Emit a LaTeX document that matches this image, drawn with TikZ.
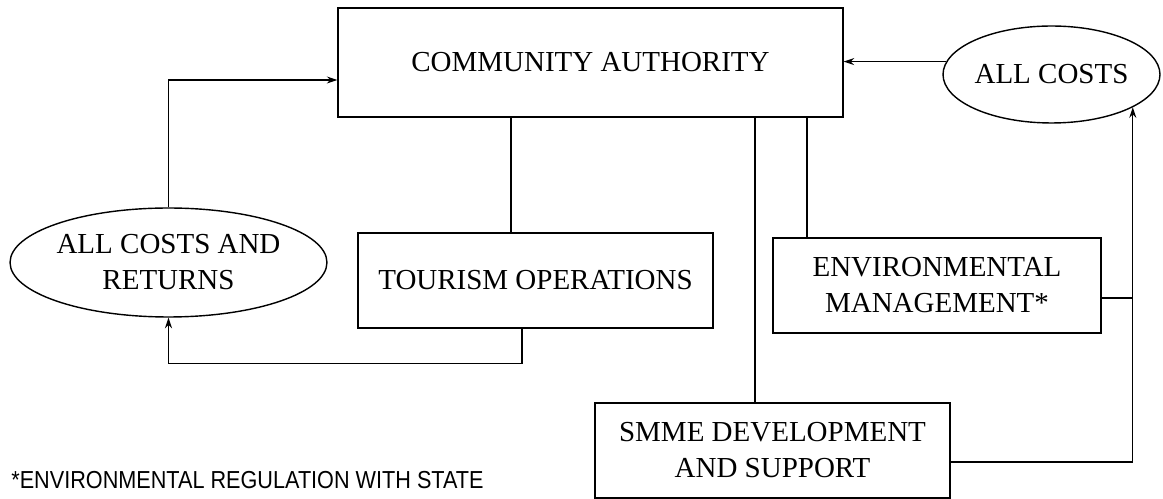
\documentclass[tikz,border=0pt]{standalone}
\usepackage{fontspec}
\setmainfont{Liberation Serif}
\newfontfamily\notafont[FakeStretch=0.88]{Liberation Sans}
\usetikzlibrary{arrows.meta,shapes.geometric}
\begin{document}
\begin{tikzpicture}[
                x=0.02cm, y=-0.02cm,
                bloco/.style={shape=rectangle, draw=black, line width=0.8pt, align=center,
                    font=\fontsize{16.5}{20.5}\selectfont, inner sep=2pt},
                elipse/.style={shape=ellipse, draw=black, line width=0.8pt, align=center,
                    font=\fontsize{16.5}{20.5}\selectfont, inner xsep=-1cm, inner ysep=0pt},
                aresta/.style={line width=0.8pt},
                seta/.style={line width=0.8pt, -{Stealth[length=6pt, width=4pt]}},
            ]
            \useasboundingbox (0,0) rectangle (1163,499);

            \node[bloco, minimum width=10.1cm, minimum height=2.18cm] (ca) at (590.5, 62.5) {COMMUNITY AUTHORITY};
            \node[elipse, minimum width=6.34cm, minimum height=2.18cm] (acr) at (168.5, 262.5) {ALL COSTS AND\\RETURNS};
            \node[bloco, minimum width=7.1cm, minimum height=1.9cm] (tur) at (535.5, 280.5) {TOURISM OPERATIONS};
            \node[elipse, minimum width=4.34cm, minimum height=1.94cm] (ac) at (1051.5, 74.5) {ALL COSTS};
            \node[bloco, minimum width=6.56cm, minimum height=1.9cm] (amb) at (937, 285.5) {ENVIRONMENTAL\\MANAGEMENT*};
            \node[bloco, minimum width=7.1cm, minimum height=1.9cm] (smme) at (772.5, 450.5) {SMME DEVELOPMENT\\AND SUPPORT};
            \node[anchor=west, font=\notafont\fontsize{14}{16}\selectfont, inner sep=0pt] (nota) at (11, 480) {*ENVIRONMENTAL REGULATION WITH STATE};

            \coordinate (t1) at ([xshift=-0.49cm]tur.north);
            \coordinate (t2) at ([xshift=-0.27cm]tur.south);
            \coordinate (s1) at ([xshift=-0.35cm]smme.north);
            \coordinate (a1) at ([xshift=-2.6cm]amb.north);
            \coordinate (a2) at ([yshift=-0.25cm]amb.east);
            \coordinate (s2) at ([yshift=-0.23cm]smme.east);
            \coordinate (c1) at ([yshift=-0.35cm]ca.west);

            \draw[seta] (acr.north) |- (c1);
            \draw[seta] (ac.173) -- (ac.173 -| ca.east);
            \draw[aresta] (t1) -- (t1 |- ca.south);
            \draw[seta] (t2) -- ++(0,35) -| (acr.south);
            \draw[aresta] (s1) -- (s1 |- ca.south);
            \draw[aresta] (a1) -- (a1 |- ca.south);
            \draw[aresta] (a2) -- (a2 -| ac.-22);
            \draw[seta] (s2) -| (ac.-22);
        \end{tikzpicture}
\end{document}
